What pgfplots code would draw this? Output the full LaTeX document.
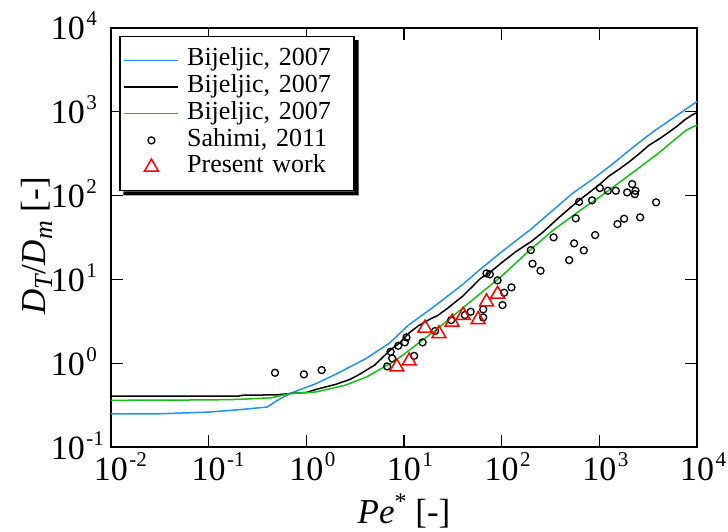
\documentclass[border=0pt]{standalone}
\usepackage{fontspec}
\setmainfont{Liberation Serif}
\usepackage{pgfplots}
\pgfplotsset{compat=1.18}
\definecolor{bl}{RGB}{30,144,255}
\definecolor{gr}{RGB}{20,190,20}
\newcommand{\tl}[1]{10\rlap{\hspace{1.5pt}\raisebox{14pt}{\fontsize{21}{21}\selectfont #1}}}
\newcommand{\sub}[1]{\raisebox{-7pt}{\fontsize{26}{26}\selectfont\itshape #1}}
\pgfplotsset{
 lineleg/.style={legend image code/.code={\draw[##1] (0pt,0pt) -- (54pt,0pt);}},
 markleg/.style={legend image code/.code={\draw[mark repeat=2, mark phase=2, ##1] plot coordinates {(0pt,0pt) (27pt,0pt) (54pt,0pt)};}},
}
\begin{document}
\begin{tikzpicture}
\begin{axis}[
 scale only axis, width=586pt, height=419.6pt,
 xmode=log, ymode=log,
 xmin=0.01, xmax=10000, ymin=0.1, ymax=10000,
 xtick={0.01,0.1,1,10,100,1000,10000},
 xticklabels={\tl{-2},\tl{-1},\tl{0},\tl{1},\tl{2},\tl{3},\tl{4}},
 ytick={0.1,1,10,100,1000,10000},
 yticklabels={\tl{-1},\tl{0},\tl{1},\tl{2},\tl{3},\tl{4}},
 xminorticks=false, yminorticks=false,
 tick align=inside, major tick length=12pt,
 every tick/.style={black, line width=1.5pt},
 axis line style={line width=1.8pt},
 xticklabel style={font=\fontsize{34}{38}\selectfont, anchor=base, inner sep=0pt, yshift=-33.4pt},
 yticklabel style={font=\fontsize{34}{38}\selectfont, anchor=base east, inner sep=0pt, xshift=-26pt, yshift=-11.7pt},
 xlabel={\textit{Pe}\raisebox{14pt}{\fontsize{24}{24}\selectfont *} [-]},
 ylabel={\textit{D}\sub{T}/\textit{D}\sub{m} [-]},
 xlabel style={font=\fontsize{35}{40}\selectfont, at={(axis description cs:0.5,-0.1811)}, anchor=base},
 ylabel style={font=\fontsize{35}{40}\selectfont, at={(axis description cs:-0.1126,0.48)}, anchor=base},
 legend style={name=leg, at={(0.0142,0.980)}, anchor=north west, font=\fontsize{26}{27}\selectfont,
   draw=black, line width=1.3pt, fill=white,
   inner xsep=3.7pt, inner ysep=10.2pt, column sep=8pt,
   nodes={inner sep=0pt, text height=19pt, text depth=7.7pt, text width=163pt, align=left}},
 legend cell align=left,
]
\addplot[bl, line width=1.5pt, lineleg] coordinates {
(0.01,0.251) (0.0316,0.251) (0.0631,0.258) (0.1,0.263) (0.2,0.280) (0.398,0.302) (0.501,0.360) (0.676,0.437) (1.259,0.575) (1.995,0.741) (3.98,1.122) (7.08,1.738) (11.22,2.884) (19.95,4.677) (39.8,8.71) (60.3,13.18) (100,21.38) (199.5,39.8) (316,63.1) (537,107.2) (891,162.2) (1413,245.5) (2239,380) (3548,575) (5623,832) (10000,1318)
};
\addlegendentry{Bijeljic, 2007}
\addplot[black, line width=1.5pt, lineleg] coordinates {
(0.01,0.407) (0.1,0.407) (0.2,0.407) (0.22,0.417) (0.5,0.422) (0.676,0.437) (1.0,0.45) (1.259,0.49) (1.995,0.562) (2.818,0.646) (3.5,0.74) (5.01,0.955) (7.24,1.445) (9,1.75) (11.22,2.291) (14,2.8) (18.62,3.388) (22,3.7) (28.18,4.571) (39.8,6.31) (50,8.2) (60.3,10.23) (75,12.0) (100,15.85) (140,21.5) (199.5,28.18) (260,36) (354.8,50.1) (450,64) (631,89.1) (800,110) (1000,134.9) (1250,170) (1622,208.9) (2000,250) (2512,309) (3200,395) (4169,478.6) (5000,555) (6310,676) (7500,800) (8913,912) (10000,977)
};
\addlegendentry{Bijeljic, 2007}
\addplot[gr, line width=1.5pt, lineleg] coordinates {
(0.01,0.363) (0.1,0.367) (0.2,0.372) (0.437,0.389) (0.676,0.437) (1.259,0.457) (2.512,0.550) (4.17,0.692) (8.32,1.096) (21.38,2.512) (63.1,7.08) (100,10.96) (186,21.4) (338.8,38.9) (631,66.1) (1000,95.5) (1905,166) (3981,316) (7762,603) (10000,692)
};
\addlegendentry{Bijeljic, 2007}
\addplot[only marks, mark=o, mark size=3.5pt, black, line width=1.3pt, markleg] coordinates {
(0.478,0.773) (0.944,0.740) (1.435,0.832) (6.73,0.921) (7.57,1.147) (7.29,1.375) (8.73,1.62) (10.2,1.78) (10.6,2.04) (12.7,1.23) (15.5,1.78) (20.8,2.43) (30.4,3.28) (42.0,3.77) (48.1,4.12) (64.7,4.40) (64.7,3.53) (70.0,11.8) (75.7,11.5) (90.8,9.76) (102,4.95) (106,6.95) (126,8.05) (199,22.4) (207,15.4) (250,12.7) (340,31.8) (491,17.0) (552,26.9) (574,53.5) (621,84.3) (693,22.2) (843,87.7) (906,33.8) (1012,123) (1222,114) (1476,114) (1535,45.7) (1794,52.9) (1927,109) (2168,137) (2308,104) (2345,114) (2616,55.0) (3811,83.0)
};
\addlegendentry{Sahimi, 2011}
\addplot[only marks, mark=triangle, mark size=8pt, red, line width=1.5pt, markleg] coordinates {
(8.45,0.907) (11.3,1.069) (16.4,2.64) (22.8,2.26) (31.1,3.10) (40.4,3.74) (57.4,3.33) (70.0,5.41) (90.8,6.67)
};
\addlegendentry{Present work}
\end{axis}
\fill[black] ([xshift=4pt]leg.south west) -- ([xshift=4pt,yshift=-4pt]leg.south west) -- ([xshift=4pt,yshift=-4pt]leg.south east) -- ([xshift=4pt,yshift=-4pt]leg.north east) -- ([yshift=-4pt]leg.north east) -- (leg.south east) -- cycle;
\pgfresetboundingbox
\path (current axis.south west) ++(-111pt,-83.7pt) rectangle ++(728pt,531pt);
\end{tikzpicture}
\end{document}
